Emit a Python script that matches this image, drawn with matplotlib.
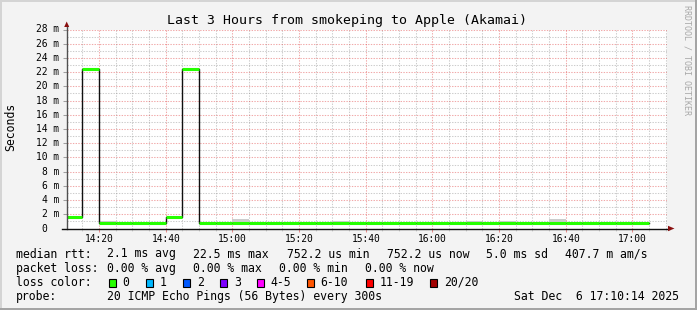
import matplotlib
matplotlib.use('Agg')
import pandas as pd
import matplotlib.pyplot as plt
import matplotlib.dates as mdates
from matplotlib.patches import Rectangle, Polygon
from matplotlib.transforms import offset_copy

# median rtt per 5 minute step (ms), starting 14:10
median_ms = [1.6, 22.5, 0.75, 0.75, 0.75, 0.75, 1.6, 22.5,
             0.75, 0.75, 0.75, 0.75, 0.75, 0.75, 0.75, 0.75, 0.75,
             0.75, 0.75, 0.75, 0.75, 0.75, 0.75, 0.75, 0.75, 0.75,
             0.75, 0.75, 0.75, 0.75, 0.75, 0.75, 0.75, 0.75, 0.75]
# top of the grey smoke per step (ms)
smoke_ms = [1.6, 22.5, 1.05, 0.75, 0.75, 0.75, 1.6, 22.5,
            0.75, 0.75, 1.3, 0.75, 0.75, 0.75, 0.75, 0.75, 1.0,
            0.75, 0.75, 0.75, 0.75, 0.75, 0.75, 0.75, 1.0, 0.75,
            1.0, 0.75, 0.75, 1.3, 0.75, 0.75, 0.75, 0.75, 0.75]
loss_count = [0] * 35

loss_labels = ['0', '1', '2', '3', '4-5', '6-10', '11-19', '20/20']
loss_colors = ['#26ff00', '#00b8ff', '#0059ff', '#7e00ff',
               '#ff00ff', '#ff5500', '#ff0000', '#a10000']

ytick_vals = list(range(0, 29, 2))

W, H = 697, 310
MONO = 'DejaVu Sans Mono'
fig = plt.figure(figsize=(W / 100, H / 100), dpi=100, facecolor='#f3f3f3')


def fx(x):
    return x / W


def fy(y):
    return 1 - y / H


def rect(x, y, w, h, **kw):
    fig.add_artist(Rectangle((fx(x), fy(y + h)), w / W, h / H,
                             transform=fig.transFigure, **kw))


# frame shading
rect(0, 0, W, 2, color='#d4d4d4', lw=0)
rect(0, 0, 2, H, color='#d4d4d4', lw=0)
rect(W - 2, 0, 2, H, color='#a4a4a4', lw=0)
rect(0, H - 2, W, 2, color='#a4a4a4', lw=0)

ax = fig.add_axes([fx(66.5), fy(228.5), 600 / W, 199 / H])
ax.set_facecolor('white')

edges = pd.date_range('2025-12-06 14:10', periods=len(median_ms) + 1, freq='5min')
med_ext = median_ms + [median_ms[-1]]
smoke_ext = smoke_ms + [smoke_ms[-1]]

ax.fill_between(edges, med_ext, smoke_ext, step='post', color='#cccccc', lw=0, zorder=2)
ax.step(edges, med_ext, where='post', color='#101010', lw=1, zorder=3)
ax.hlines(median_ms, edges[:-1], edges[1:],
          colors=[loss_colors[0 if c == 0 else 1] for c in loss_count], lw=2.2, zorder=4)

ax.set_xlim(pd.Timestamp('2025-12-06 14:10:14'), pd.Timestamp('2025-12-06 17:10:14'))
ax.set_ylim(0, 28)

ax.xaxis.set_major_locator(mdates.MinuteLocator(byminute=[0, 20, 40]))
ax.xaxis.set_minor_locator(mdates.MinuteLocator(byminute=range(0, 60, 5)))
ax.xaxis.set_major_formatter(mdates.DateFormatter('%H:%M'))
ax.set_yticks(ytick_vals)
ax.set_yticks(range(0, 29), minor=True)

ax.set_axisbelow(True)
ax.grid(which='minor', color='#808080', alpha=0.4, ls=(0, (1.3, 1.3)), lw=0.75)
ax.grid(which='major', color='#e04040', alpha=0.45, ls=(0, (1.3, 1.3)), lw=0.75)

for s in ax.spines.values():
    s.set_visible(False)

ax.tick_params(axis='x', which='major', length=2.2, width=0.75, color=(0.9, 0.55, 0.55),
               labelsize=6.93, pad=1.8)
ax.tick_params(axis='x', which='minor', length=1.5, width=0.75, color='#d0d0d0')
ax.tick_params(axis='y', which='major', length=3.2, width=0.75, color='#a0a0a0',
               labelleft=False)
ax.tick_params(axis='y', which='minor', length=0)
for lbl in ax.get_xticklabels():
    lbl.set_family(MONO)

# y labels in rrdtool style
ytr = offset_copy(ax.get_yaxis_transform(), fig=fig, x=-7.2, y=0, units='dots')
ytr0 = offset_copy(ax.get_yaxis_transform(), fig=fig, x=-19.5, y=0, units='dots')
for v in ytick_vals:
    if v:
        ax.text(0, v, f'{v} m', transform=ytr, ha='right', va='center',
                fontsize=6.93, family=MONO)
    else:
        ax.text(0, v, '0', transform=ytr0, ha='right', va='center',
                fontsize=6.93, family=MONO)

# axis lines with arrows
ax.plot([0, 0], [0, 1 + 4 / 199], transform=ax.transAxes, clip_on=False,
        color='#505050', lw=1, zorder=5)
ax.plot([-5 / 600, 1 + 3 / 600], [0, 0], transform=ax.transAxes, clip_on=False,
        color='#101010', lw=1, zorder=5)
fig.add_artist(Polygon([(fx(64.2), fy(27)), (fx(69.2), fy(27)), (fx(66.7), fy(21.5))],
                       closed=True, transform=fig.transFigure, color='#8a1010', lw=0))
fig.add_artist(Polygon([(fx(668), fy(225.8)), (fx(668), fy(231.2)), (fx(674.5), fy(228.5))],
                       closed=True, transform=fig.transFigure, color='#8a1010', lw=0))

# titles
fig.text(fx(347), fy(24), 'Last 3 Hours from smokeping to Apple (Akamai)',
         ha='center', va='baseline', fontsize=9.5, family=MONO)
fig.text(fx(10.8), fy(127), 'Seconds', rotation=90, ha='center', va='center',
         fontsize=8.3, family=MONO)
fig.text(fx(687.5), fy(60), 'RRDTOOL / TOBI OETIKER', rotation=-90, ha='center',
         va='center', fontsize=6, family=MONO, color='#a8a8a8')

# legend
LS = 8.3
rows = [
    (257.5, [('median rtt:', 16), ('2.1 ms avg', 107.3), ('22.5 ms max', 193.3),
             ('752.2 us min', 286.7), ('752.2 us now', 387), ('5.0 ms sd', 486.3),
             ('407.7 m am/s', 565.3)]),
    (271.7, [('packet loss:', 16), ('0.00 % avg', 107.3), ('0.00 % max', 193.3),
             ('0.00 % min', 279.3), ('0.00 % now', 365.3)]),
    (285.9, [('loss color:', 16)]),
    (300.1, [('probe:', 16), ('20 ICMP Echo Pings (56 Bytes) every 300s', 107.3),
             ('Sat Dec  6 17:10:14 2025', 513.7)]),
]
for base, items in rows:
    for txt, x in items:
        fig.text(fx(x), fy(base), txt, ha='left', va='baseline', fontsize=LS, family=MONO)

box_x = [108.7, 146, 183.3, 220, 256.7, 306.7, 366, 430.3]
for bx, lab, col in zip(box_x, loss_labels, loss_colors):
    rect(bx, 279, 7, 7.5, facecolor=col, edgecolor='black', lw=0.8)
    fig.text(fx(bx + 14), fy(285.9), lab, ha='left', va='baseline', fontsize=LS, family=MONO)

fig.savefig('out.png', dpi=100, facecolor=fig.get_facecolor())
